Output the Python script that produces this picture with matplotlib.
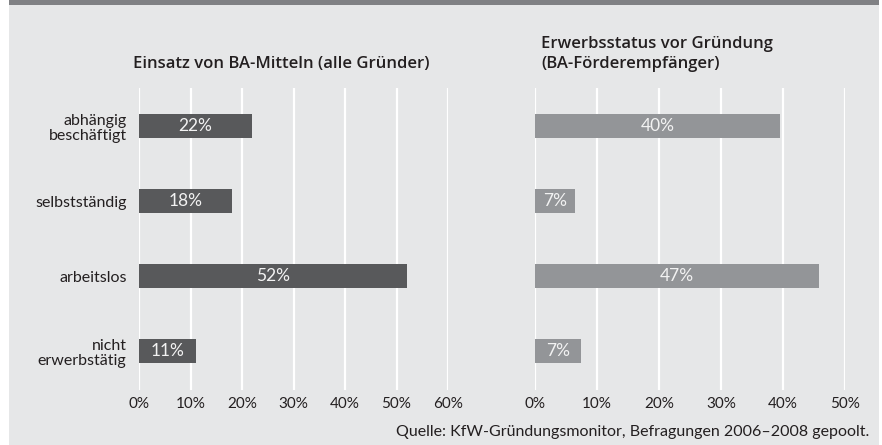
import matplotlib
matplotlib.use("Agg")
import matplotlib.pyplot as plt
from matplotlib.patches import Rectangle

# --- data ---
categories = ["abhängig\nbeschäftigt", "selbstständig", "arbeitslos", "nicht\nerwerbstätig"]
left_values = [22, 18, 52, 11]          # Einsatz von BA-Mitteln (alle Gründer)
left_labels = ["22%", "18%", "52%", "11%"]
right_values = [39.5, 6.5, 45.8, 7.4]   # bar lengths as drawn in the picture
right_labels = ["40%", "7%", "47%", "7%"]
left_ticks = [0, 10, 20, 30, 40, 50, 60]
right_ticks = [0, 10, 20, 30, 40, 50]
left_title = "Einsatz von BA-Mitteln (alle Gründer)"
right_title = "Erwerbsstatus vor Gründung\n(BA-Förderempfänger)"
source = "Quelle: KfW-Gründungsmonitor, Befragungen 2006–2008 gepoolt."

# --- style ---
BG = "#e6e7e8"
BAND = "#808184"
DARK = "#58595b"
LIGHT = "#939598"
TXT = "#231f20"
BODY = ["Lato", "DejaVu Sans"]
HEAD = ["Open Sans", "DejaVu Sans"]

W, H = 882, 445
fig = plt.figure(figsize=(W / 100, H / 100), dpi=100, facecolor="white")

# background panel and top band
fig.patches.append(Rectangle((9 / W, 0), 870 / W, 1 - 5 / H, transform=fig.transFigure,
                             facecolor=BG, edgecolor="none", zorder=-10))
fig.patches.append(Rectangle((9 / W, 1 - 5 / H), 870 / W, 5 / H, transform=fig.transFigure,
                             facecolor=BAND, edgecolor="none", zorder=-10))

bottom = 1 - 390 / H
height = 302 / H
ax1 = fig.add_axes([139 / W, bottom, 309 / W, height])
ax2 = fig.add_axes([535 / W, bottom, 310 / W, height])

ypos = list(range(len(categories)))
for ax, vals, labels, ticks, color in [(ax1, left_values, left_labels, left_ticks, DARK),
                                       (ax2, right_values, right_labels, right_ticks, LIGHT)]:
    ax.set_facecolor("none")
    for s in ax.spines.values():
        s.set_visible(False)
    ax.set_xlim(ticks[0], ticks[-1])
    ax.set_ylim(3.52, -0.507)
    ax.set_xticks(ticks)
    ax.set_xticklabels([f"{t}%" for t in ticks], family=BODY, fontsize=11, color=TXT)
    ax.tick_params(axis="x", length=0, pad=5)
    for t in ticks:
        ax.axvline(t, color="white", lw=1.6, zorder=0)
    bars = ax.barh(ypos, vals, height=0.32, color=color, zorder=2)
    for b, lab in zip(bars, labels):
        ax.text(b.get_width() / 2, b.get_y() + b.get_height() / 2, lab,
                ha="center", va="center", color="#f2f2f2", fontsize=12.5,
                family=BODY, zorder=3)

ax1.set_yticks(ypos)
ax1.set_yticklabels(categories, family=BODY, fontsize=11.5, color=TXT, linespacing=1.15)
ax1.tick_params(axis="y", length=0, pad=9)
ax2.set_yticks([])

fig.text(133 / W, 1 - 72 / H, left_title, ha="left", va="bottom", fontsize=12,
         fontweight="semibold", family=HEAD, color=TXT)
fig.text(541 / W, 1 - 72 / H, right_title, ha="left", va="bottom", fontsize=12,
         fontweight="semibold", family=HEAD, color=TXT, linespacing=1.35)
fig.text(869 / W, 1 - 436 / H, source, ha="right", va="baseline", fontsize=11.5,
         family=BODY, color=TXT)

fig.savefig("out.png", dpi=100, facecolor="white")
